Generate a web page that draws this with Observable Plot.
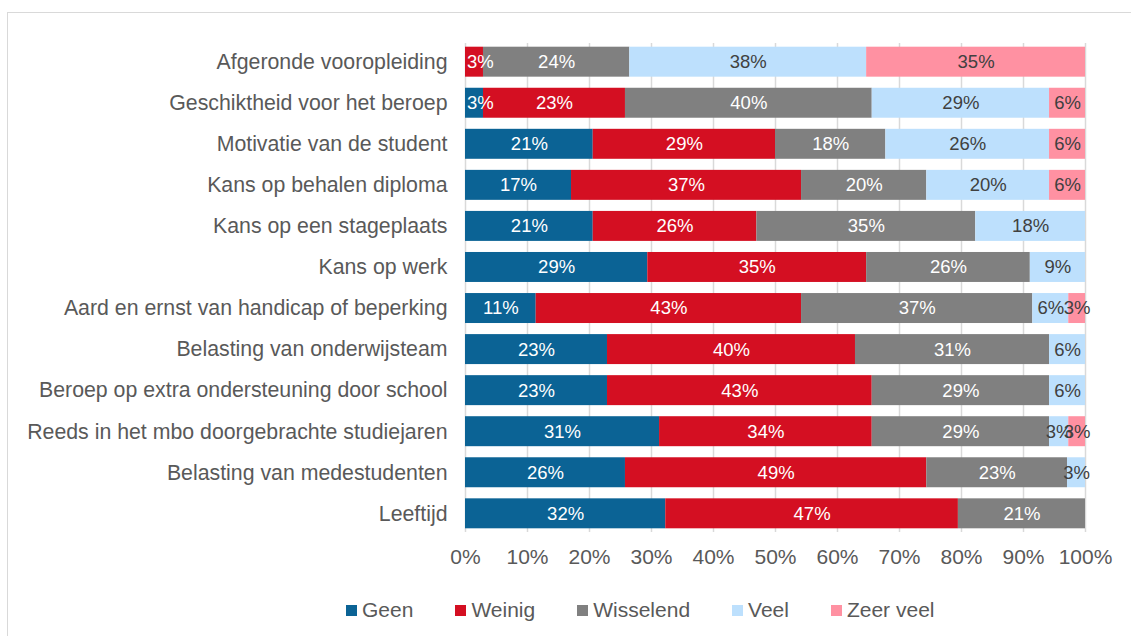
<!DOCTYPE html>
<html><head><meta charset="utf-8">
<script src="https://cdn.jsdelivr.net/npm/d3@7"></script>
<script src="https://cdn.jsdelivr.net/npm/@observablehq/plot@0.6"></script>
<style>
body{margin:0;background:#fff;font-family:"Liberation Sans",Arial,sans-serif;}
#wrap{position:relative;width:1131px;height:636px;overflow:hidden;background:#fff;}
#frame{position:absolute;left:7px;top:12px;width:1140px;height:640px;border-left:1px solid #d9d9d9;border-top:1px solid #d9d9d9;box-sizing:border-box;}
#chart{position:absolute;left:0;top:0;}
#legend{position:absolute;left:346px;top:597px;height:26px;line-height:26px;display:flex;gap:42px;font-size:21px;color:#595959;align-items:center;white-space:nowrap;}
#legend .it{display:flex;align-items:center;}
#legend .sw{width:11px;height:11px;margin-right:5px;display:inline-block;}
</style></head>
<body>
<div id="wrap"><div id="frame"></div><div id="chart"></div><div id="legend"></div></div>
<script>
const items = [
  "Afgeronde vooropleiding",
  "Geschiktheid voor het beroep",
  "Motivatie van de student",
  "Kans op behalen diploma",
  "Kans op een stageplaats",
  "Kans op werk",
  "Aard en ernst van handicap of beperking",
  "Belasting van onderwijsteam",
  "Beroep op extra ondersteuning door school",
  "Reeds in het mbo doorgebrachte studiejaren",
  "Belasting van medestudenten",
  "Leeftijd"
];
const categories = ["Geen", "Weinig", "Wisselend", "Veel", "Zeer veel"];
const colors = ["#0b6395", "#d40f22", "#808080", "#bde0fd", "#ff91a2"];
const geen      = [0,    2.9,  20.6, 17.1, 20.6, 29.4, 11.4, 22.9, 22.9, 31.3, 25.8, 32.3];
const weinig    = [2.9,  22.9, 29.4, 37.1, 26.4, 35.3, 42.8, 40.0, 42.7, 34.3, 48.6, 47.2];
const wisselend = [23.6, 39.8, 17.8, 20.2, 35.3, 26.4, 37.3, 31.3, 28.6, 28.6, 22.7, 20.5];
const veel      = [38.2, 28.6, 26.4, 19.8, 17.7, 8.9,  5.8,  5.8,  5.8,  3.1,  2.9,  0];
const zeerVeel  = [35.3, 5.8,  5.8,  5.8,  0,    0,    2.7,  0,    0,    2.7,  0,    0];
const xTicks = [0, 10, 20, 30, 40, 50, 60, 70, 80, 90, 100];

const series = [geen, weinig, wisselend, veel, zeerVeel];
const data = [];
items.forEach((item, i) => {
  categories.forEach((cat, j) => {
    data.push({item, cat, value: series[j][i]});
  });
});
const darkCats = new Set(["Geen", "Weinig", "Wisselend"]);
const lab = d => d.value > 0 ? Math.round(d.value) + "%" : "";
// keep labels of tiny first segments inside the plot area (as the spreadsheet does)
const keepInside = values => Array.from(values, v => Math.max(v, 2.4));

const chart = Plot.plot({
  width: 1131,
  height: 580,
  marginLeft: 465,
  marginRight: 46,
  marginTop: 43,
  marginBottom: 48,
  style: {fontFamily: "'Liberation Sans', Arial, sans-serif", fontSize: "21px", color: "#595959", background: "transparent"},
  x: {domain: [0, 100]},
  y: {domain: items, paddingInner: 0.27, paddingOuter: 0.09, round: false},
  color: {domain: categories, range: colors},
  marks: [
    Plot.gridX(xTicks, {stroke: "#d9d9d9", strokeOpacity: 1, strokeWidth: 1.5}),
    Plot.barX(data, Plot.stackX({x: "value", y: "item", fill: "cat", order: categories})),
    Plot.textX(data, Plot.mapX(keepInside, Plot.stackX({x: "value", y: "item", z: "cat", order: categories,
      text: d => darkCats.has(d.cat) ? lab(d) : "", fill: "white", fontSize: 18.5}))),
    Plot.textX(data, Plot.mapX(keepInside, Plot.stackX({x: "value", y: "item", z: "cat", order: categories,
      text: d => darkCats.has(d.cat) ? "" : lab(d), fill: "#404040", fontSize: 18.5}))),
    Plot.axisX({ticks: xTicks, tickSize: 0, tickPadding: 17, tickFormat: d => d + "%", label: null, fontSize: 21}),
    Plot.axisY({tickSize: 0, tickPadding: 18, label: null, fontSize: 21.3})
  ]
});
document.getElementById("chart").appendChild(chart);

const legend = document.getElementById("legend");
categories.forEach((c, i) => {
  const it = document.createElement("div");
  it.className = "it";
  it.innerHTML = `<span class="sw" style="background:${colors[i]}"></span><span>${c}</span>`;
  legend.appendChild(it);
});
</script>
</body></html>
